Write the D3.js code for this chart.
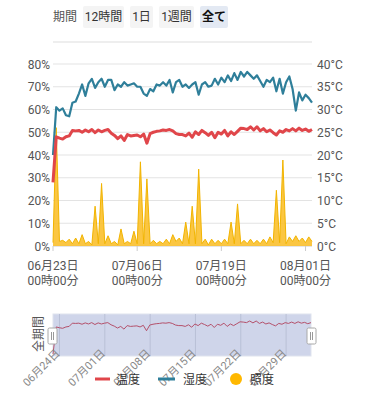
<!DOCTYPE html>
<html><head><meta charset="utf-8">
<script src="https://cdn.jsdelivr.net/npm/d3@7"></script>
<style>
html,body{margin:0;padding:0;background:#fff;}
svg{display:block;font-family:Roboto,"Noto Sans CJK JP","Noto Sans",sans-serif;}
</style></head>
<body>
<svg id="c" width="368" height="400"></svg>
<script>
// ---- data ----
const startTime = "2024-06-23T00:00:00";
const stepHours = 12;
const humidity = [40,61,59.5,60.5,57.5,57,63,63.5,67,71,66,71.5,73.5,69.5,72,73.5,70,73,73,68.5,
  71,70,72,70.5,71,71.5,70,70,67,66,69,68,71,70.5,72,70.5,73,67.5,72,73,
  70,71,69.5,71,72,66.5,71,72,70,70.5,73.5,71,74,72,75,72.5,76,73,76.5,74.5,
  76.5,75,73.5,75,72.5,70,73,72,74,68,73.5,67,72,74.5,69,59.5,67.5,64,66.5,65,63];
const temperature = [14,24,23.7,23.5,24,24.2,25.4,25.3,25.4,25.0,25.5,25.1,25.6,24.9,25.5,25.1,25.4,25.6,24.8,24.3,
  23.6,24.2,23.2,24.5,24.2,24.3,24.4,24.0,24.6,22.6,24.7,25.0,25.2,25.3,25.5,25.4,25.6,25.3,24.7,24.5,
  24.5,24.2,24.8,23.9,25.1,24.5,25.4,24.9,24.3,25.0,23.8,25.0,24.6,25.4,24.2,25.1,24.5,25.2,25.9,25.8,
  25.6,26.2,25.5,26.2,25.3,25.8,25.1,25.5,24.9,24.4,25.3,25.0,25.6,25.3,25.8,25.3,25.9,25.4,25.7,25.2,25.6];
const illuminance = [1.5,52,2,2.5,1.5,3,1,3.5,1,5,1,2,0.5,17.5,1,27.5,1,4.5,1,2,
  0.5,7.5,1,2,1,6.5,1,37,1,29.5,1,2.5,1,2,1,3,1,5,2,3.5,
  1,10.5,1,17.5,1,33.8,1,3,0.5,3,1,2.5,1,3,1,10.5,1,18.5,1,2.5,
  1,3,1,2.5,1,3,1,4,1.5,24.5,1.5,37.8,1,4,2,4.5,2,3.5,1.5,4,2];
const leftTicks = [0,10,20,30,40,50,60,70,80];
const rightTicks = [0,5,10,15,20,25,30,35,40];
const xTickDates = ["2024-06-23T00:00:00","2024-07-06T00:00:00","2024-07-19T00:00:00","2024-08-01T00:00:00"];
const sliderTickDates = ["2024-06-24T00:00:00","2024-07-01T00:00:00","2024-07-08T00:00:00","2024-07-15T00:00:00","2024-07-22T00:00:00","2024-07-29T00:00:00"];
const periodButtons = ["12時間","1日","1週間","全て"];
const seriesNames = ["温度","湿度","照度"];
const colors = {temp:"#e0464a", hum:"#2f7f9a", lux:"#fbc02d"};

// ---- setup ----
const svg = d3.select("#c");
const t0 = new Date(startTime).getTime();
const times = humidity.map((_, i) => new Date(t0 + i * stepHours * 3600e3));
const x = d3.scaleTime().domain([new Date(startTime), new Date("2024-08-02T00:00:00")]).range([53, 312]);
const yL = d3.scaleLinear().domain([0, 80]).range([246, 64]);
const yR = d3.scaleLinear().domain([0, 40]).range([246, 64]);
const yLux = d3.scaleLinear().domain([0, 80]).range([246, 64]);

// ---- top period buttons ----
svg.append("text").attr("x", 53).attr("y", 21).attr("font-size", 12).attr("fill", "#555").text("期間");
const btnX = [83, 130, 159, 200], btnW = [41, 23, 35, 28];
periodButtons.forEach((b, i) => {
  const sel = i === periodButtons.length - 1;
  svg.append("rect").attr("x", btnX[i]).attr("y", 6).attr("width", btnW[i]).attr("height", 22)
    .attr("rx", 2).attr("fill", sel ? "#e3e9f3" : "#f4f4f4");
  svg.append("text").attr("x", btnX[i] + btnW[i] / 2).attr("y", 21).attr("text-anchor", "middle")
    .attr("font-size", 12).attr("fill", sel ? "#111" : "#333").attr("font-weight", sel ? "bold" : "normal").text(b);
});
svg.append("line").attr("x1", 53).attr("x2", 312).attr("y1", 42).attr("y2", 42).attr("stroke", "#ddd");

// ---- grid ----
svg.append("g").selectAll("line").data(leftTicks).join("line")
  .attr("x1", 53).attr("x2", 312).attr("y1", d => yL(d)).attr("y2", d => yL(d))
  .attr("stroke", d => d === 0 ? "#ccc" : "#e3e3e3").attr("stroke-width", 1);

// left axis labels
svg.append("g").selectAll("text").data(leftTicks).join("text")
  .attr("x", 50).attr("y", d => yL(d) + 4.5).attr("text-anchor", "end")
  .attr("font-size", 12).attr("fill", "#555").text(d => d + "%");
// right axis labels
svg.append("g").selectAll("text").data(rightTicks).join("text")
  .attr("x", 317).attr("y", d => yR(d) + 4.5).attr("text-anchor", "start")
  .attr("font-size", 12).attr("fill", "#555").text(d => d + "°C");

// x axis ticks & labels
const xt = xTickDates.map(d => new Date(d));
svg.append("g").selectAll("line").data(xt).join("line")
  .attr("x1", d => x(d)).attr("x2", d => x(d)).attr("y1", 246).attr("y2", 251).attr("stroke", "#ccc");
const fmt1 = d3.timeFormat("%m月%d日"), fmt2 = d3.timeFormat("%H時%M分");
const xl = svg.append("g").selectAll("g").data(xt).join("g");
xl.append("text").attr("x", d => x(d)).attr("y", 270).attr("text-anchor", "middle").attr("font-size", 12).attr("fill", "#555").text(fmt1);
xl.append("text").attr("x", d => x(d)).attr("y", 285).attr("text-anchor", "middle").attr("font-size", 12).attr("fill", "#555").text(fmt2);

// ---- series ----
const area = d3.area().x((d, i) => x(times[i])).y0(yLux(0)).y1(d => yLux(d));
const lineLux = d3.line().x((d, i) => x(times[i])).y(d => yLux(d));
svg.append("path").datum(illuminance).attr("d", area).attr("fill", colors.lux).attr("fill-opacity", 0.9);
svg.append("path").datum(illuminance).attr("d", lineLux).attr("fill", "none").attr("stroke", "#f2b400").attr("stroke-width", 1);

const lineH = d3.line().x((d, i) => x(times[i])).y(d => yL(d));
svg.append("path").datum(humidity).attr("d", lineH).attr("fill", "none").attr("stroke", colors.hum)
  .attr("stroke-width", 2.2).attr("stroke-linejoin", "round");
const lineT = d3.line().x((d, i) => x(times[i])).y(d => yR(d));
svg.append("path").datum(temperature).attr("d", lineT).attr("fill", "none").attr("stroke", colors.temp)
  .attr("stroke-width", 3).attr("stroke-linejoin", "round");

// ---- slider (data zoom) ----
const sTop = 314, sBot = 356;
svg.append("rect").attr("x", 53).attr("y", sTop).attr("width", 258).attr("height", sBot - sTop)
  .attr("fill", "#cfd5ea").attr("stroke", "#dfe3ee");
const st = sliderTickDates.map(d => new Date(d));
svg.append("g").selectAll("line").data(st).join("line")
  .attr("x1", d => x(d)).attr("x2", d => x(d)).attr("y1", sTop).attr("y2", sBot).attr("stroke", "#b9c0d6");
const ySl = d3.scaleLinear().domain(d3.extent(temperature)).range([354, 321]);
const lineS = d3.line().x((d, i) => 53 + (x(times[i]) - 53) * 258 / 259).y(d => ySl(d));
svg.append("path").datum(temperature).attr("d", lineS).attr("fill", "none").attr("stroke", "#b4506a").attr("stroke-width", 1);
[[48, 328], [307, 328]].forEach(([hx, hy]) => {
  svg.append("rect").attr("x", hx).attr("y", hy).attr("width", 9).attr("height", 16).attr("rx", 1.5)
    .attr("fill", "#fff").attr("stroke", "#a8a8a8");
  svg.append("line").attr("x1", hx + 3.5).attr("x2", hx + 3.5).attr("y1", hy + 4).attr("y2", hy + 12).attr("stroke", "#999");
  svg.append("line").attr("x1", hx + 5.5).attr("x2", hx + 5.5).attr("y1", hy + 4).attr("y2", hy + 12).attr("stroke", "#999");
});
svg.append("text").attr("transform", "translate(43,334) rotate(-90)").attr("text-anchor", "middle")
  .attr("font-size", 12).attr("fill", "#555").text("全期間");
svg.append("g").selectAll("text").data(st).join("text")
  .attr("transform", d => `translate(${x(d) + 1},354) rotate(-45)`).attr("text-anchor", "end")
  .attr("font-size", 11).attr("fill", "#888").text(d3.timeFormat("%m月%d日"));

// ---- legend ----
const lg = svg.append("g");
lg.append("line").attr("x1", 95).attr("x2", 110).attr("y1", 379).attr("y2", 379).attr("stroke", colors.temp).attr("stroke-width", 3);
lg.append("text").attr("x", 116).attr("y", 384).attr("font-size", 12).attr("fill", "#333").text(seriesNames[0]);
lg.append("line").attr("x1", 158).attr("x2", 175).attr("y1", 379).attr("y2", 379).attr("stroke", colors.hum).attr("stroke-width", 3);
lg.append("text").attr("x", 183).attr("y", 384).attr("font-size", 12).attr("fill", "#333").text(seriesNames[1]);
lg.append("circle").attr("cx", 236).attr("cy", 379).attr("r", 6).attr("fill", "#ffb800");
lg.append("text").attr("x", 250).attr("y", 384).attr("font-size", 12).attr("fill", "#333").text(seriesNames[2]);
</script>
</body></html>
